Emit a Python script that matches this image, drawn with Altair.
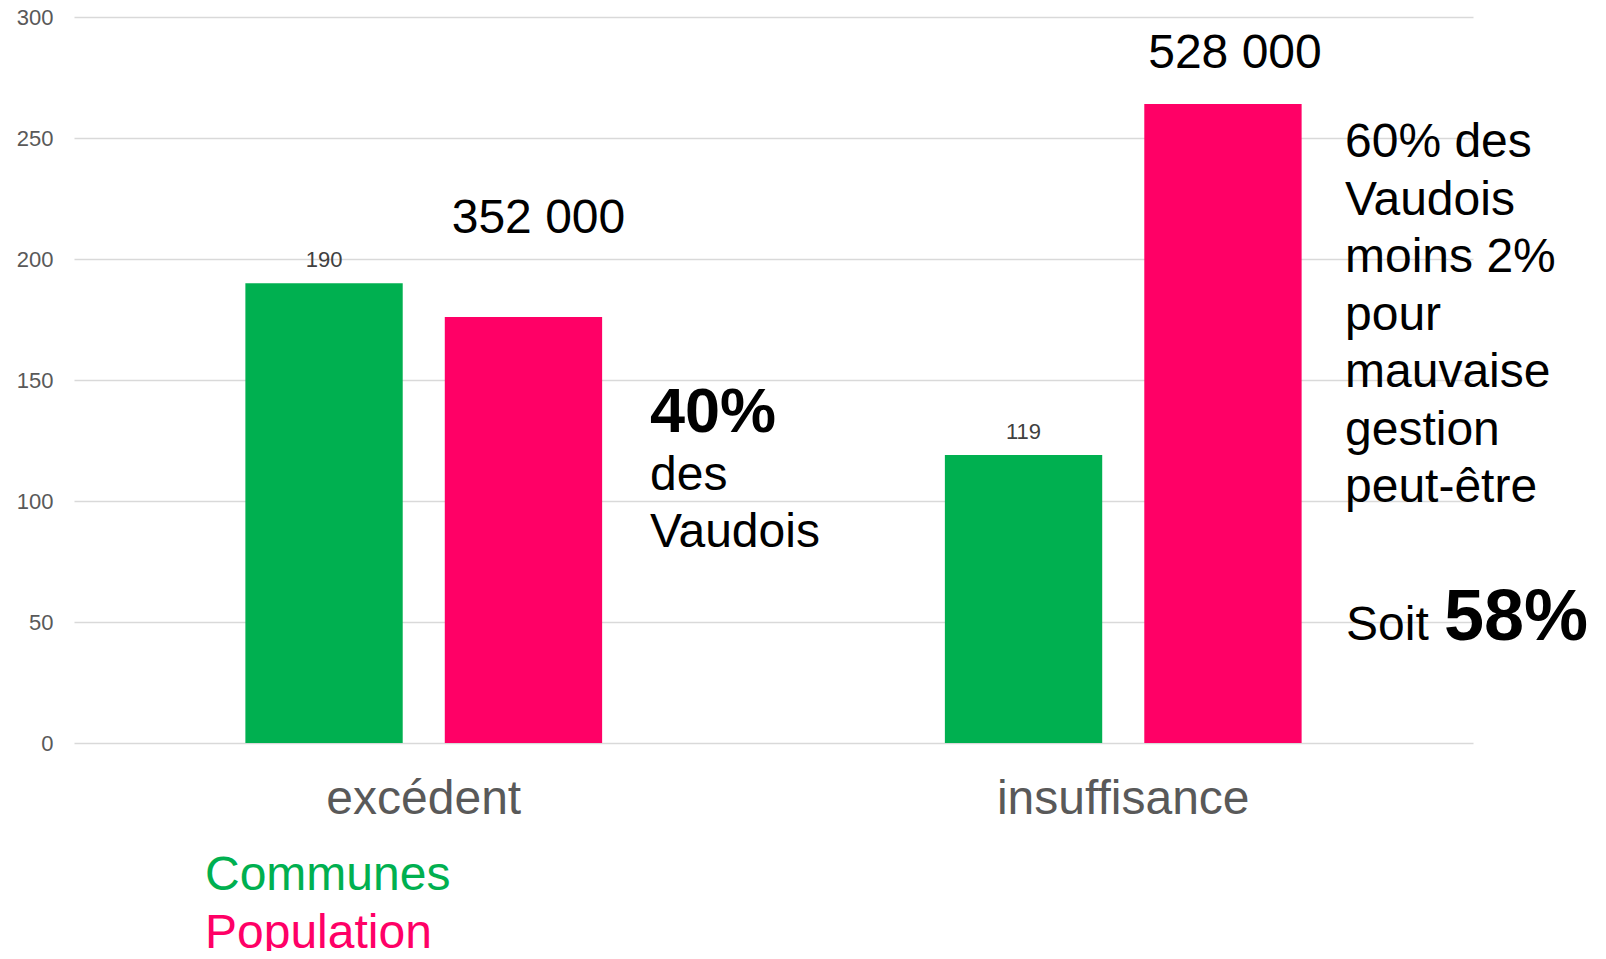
import altair as alt
import pandas as pd

# ---- data ----
categories = ["excédent", "insuffisance"]
series = ["Communes", "Population"]
communes = [190, 119]
population = [176, 264]          # population / 2000
population_labels = ["352 000", "528 000"]
colors = ["#00B050", "#FF0066"]
y_ticks = [0, 50, 100, 150, 200, 250, 300]

note_left_big = "40%"
note_left_lines = ["des", "Vaudois"]
note_right_lines = ["60% des", "Vaudois", "moins 2%", "pour", "mauvaise", "gestion", "peut-être"]
note_right_soit = "Soit"
note_right_big = "58%"

rows = []
for i, c in enumerate(categories):
    rows.append({"cat": c, "series": series[0], "value": communes[i], "label": str(communes[i])})
    rows.append({"cat": c, "series": series[1], "value": population[i], "label": population_labels[i]})
df = pd.DataFrame(rows)
legend_df = pd.DataFrame({"series": series})
one = pd.DataFrame({"a": [0]})

FONT = "Liberation Sans"
W, H = 1399, 726

color_scale = alt.Scale(domain=series, range=colors)
x_enc = alt.X(
    "cat:N", sort=categories,
    scale=alt.Scale(paddingInner=0.49, paddingOuter=0.245),
    axis=alt.Axis(title=None, labelFontSize=48, labelColor="#595959", labelFont=FONT,
                  labelBaseline="alphabetic", labelPadding=70, ticks=False, tickSize=0,
                  domain=False, grid=False, labelAngle=0, labelLimit=0),
)
xoff_enc = alt.XOffset("series:N", sort=series, scale=alt.Scale(paddingInner=0.211, paddingOuter=0))
y_enc = alt.Y(
    "value:Q", scale=alt.Scale(domain=[0, 300], nice=False),
    axis=alt.Axis(title=None, values=y_ticks, labelFontSize=22, labelColor="#595959", labelFont=FONT,
                  labelPadding=21, ticks=False, tickSize=0, domain=False,
                  gridColor="#D9D9D9", gridWidth=1.5),
)

base = alt.Chart(df)

bars = base.mark_bar().encode(
    x=x_enc, xOffset=xoff_enc, y=y_enc,
    color=alt.Color("series:N", scale=color_scale, legend=None),
)

small_labels = base.transform_filter(alt.datum.series == series[0]).mark_text(
    dy=-16, baseline="alphabetic", fontSize=22, color="#404040", font=FONT
).encode(x=alt.X("cat:N", sort=categories), xOffset=alt.XOffset("series:N", sort=series),
         y="value:Q", text="label:N")

pop1 = base.transform_filter(
    (alt.datum.series == series[1]) & (alt.datum.cat == categories[0])
).mark_text(dy=-84, dx=15, baseline="alphabetic", fontSize=48, color="#000000", font=FONT).encode(
    x=alt.X("cat:N", sort=categories), xOffset=alt.XOffset("series:N", sort=series),
    y="value:Q", text="label:N")

pop2 = base.transform_filter(
    (alt.datum.series == series[1]) & (alt.datum.cat == categories[1])
).mark_text(dy=-36, dx=12, baseline="alphabetic", fontSize=48, color="#000000", font=FONT).encode(
    x=alt.X("cat:N", sort=categories), xOffset=alt.XOffset("series:N", sort=series),
    y="value:Q", text="label:N")

left_big = alt.Chart(one).mark_text(
    text=note_left_big, align="left", baseline="alphabetic", fontSize=63, fontWeight="bold",
    color="#000000", font=FONT
).encode(x=alt.value(576), y=alt.value(415))

left_lines = alt.Chart(one).mark_text(
    text=note_left_lines, align="left", baseline="alphabetic", fontSize=48, lineHeight=56.7,
    color="#000000", font=FONT
).encode(x=alt.value(576), y=alt.value(473))

right_lines = alt.Chart(one).mark_text(
    text=note_right_lines, align="left", baseline="alphabetic", fontSize=48, lineHeight=57.5,
    color="#000000", font=FONT
).encode(x=alt.value(1271), y=alt.value(140))

right_soit = alt.Chart(one).mark_text(
    text=note_right_soit, align="left", baseline="alphabetic", fontSize=48,
    color="#000000", font=FONT
).encode(x=alt.value(1272), y=alt.value(623))

right_big = alt.Chart(one).mark_text(
    text=note_right_big, align="left", baseline="alphabetic", fontSize=72, fontWeight="bold",
    color="#000000", font=FONT
).encode(x=alt.value(1370), y=alt.value(623))

leg1 = alt.Chart(legend_df).transform_filter(alt.datum.series == series[0]).mark_text(
    align="left", baseline="alphabetic", fontSize=48, font=FONT
).encode(x=alt.value(131), y=alt.value(873),
         color=alt.Color("series:N", scale=color_scale, legend=None), text="series:N")

leg2 = alt.Chart(legend_df).transform_filter(alt.datum.series == series[1]).mark_text(
    align="left", baseline="alphabetic", fontSize=48, font=FONT
).encode(x=alt.value(131), y=alt.value(931),
         color=alt.Color("series:N", scale=color_scale, legend=None), text="series:N")

chart = alt.layer(
    bars, small_labels, pop1, pop2, left_big, left_lines, right_lines, right_soit, right_big, leg1, leg2
).properties(
    width=W, height=H,
    autosize=alt.AutoSizeParams(type="none"),
    padding={"left": 66, "top": 9, "right": 125, "bottom": 208},
).configure(font=FONT, background="white").configure_view(stroke=None, strokeWidth=0)

chart.save("out.html", embed_options={"renderer": "svg", "actions": False})
